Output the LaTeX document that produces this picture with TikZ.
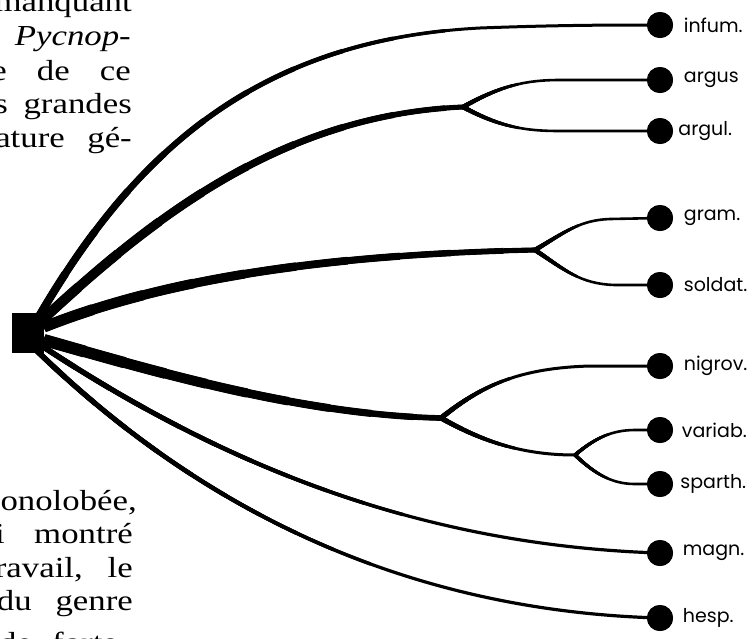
\documentclass[tikz,border=0pt]{standalone}
\usepackage{graphicx}
\usepackage{fontspec}
\setmainfont{Liberation Serif}
\newfontfamily\lblfont{Poppins}
\newcommand\sw[1]{\scalebox{1.2}[1]{#1}}
\newcommand\taper[4]{%
  \draw[line width=#2pt] #4;
  \foreach \ti in {1,...,10}{%
    \pgfmathsetmacro\twid{#2+(#1-#2)*\ti/10}%
    \pgfmathsetmacro\tlen{#3*(11-\ti)/10}%
    \draw[line width=\twid pt, dash pattern=on \tlen pt off 3000pt] #4;
  }}
\begin{document}
\begin{tikzpicture}[x=1pt,y=-1pt,
  dot/.style={circle,fill=black,minimum size=26pt,inner sep=0pt},
  lbl/.style={font=\lblfont\fontsize{19}{19}\selectfont,anchor=west,inner sep=0pt},
  txt/.style={font=\fontsize{29}{33}\selectfont,anchor=base east,inner sep=0pt},
  line join=round]
\useasboundingbox (0,0) rectangle (752,638);
\clip (0,0) rectangle (752,638);
\fill[white] (0,0) rectangle (752,638);
% text fragments (words of a justified page column)
\node[txt] (t1) at (132,11) {\sw{manquant}};
\node[txt] (t2) at (131,45) {\sw{\itshape Pycnop-}};
\node[txt] (t3a) at (7,80) {\sw{e}};
\node[txt] (t3b) at (70,80) {\sw{de}};
\node[txt] (t3c) at (131,80) {\sw{ce}};
\node[txt] (t4a) at (8,113) {\sw{s}};
\node[txt] (t4b) at (132,113) {\sw{grandes}};
\node[txt] (t5a) at (65,147) {\sw{ature}};
\node[txt] (t5b) at (132,147) {\sw{gé-}};
\node[txt] (b1) at (137,510) {\sw{onolobée,}};
\node[txt] (b2a) at (5,543) {\sw{i}};
\node[txt] (b2b) at (133,543) {\sw{montré}};
\node[txt] (b3a) at (83,577) {\sw{ravail,}};
\node[txt] (b3b) at (133,577) {\sw{le}};
\node[txt] (b4a) at (32,610) {\sw{du}};
\node[txt] (b4b) at (133,610) {\sw{genre}};
\node[txt,anchor=base west] (b5a) at (-1,652) {\sw{de}};
\node[txt,anchor=base west] (b5b) at (52,652) {\sw{forte}};
% root
\node[fill=black,minimum width=32pt,minimum height=40pt,inner sep=0pt] (root) at (28,333) {};
% leaves
\node[dot] (infum) at (660,25) {};
\node[dot] (argus) at (660,80) {};
\node[dot] (argul) at (660,131) {};
\node[dot] (gram) at (660,218) {};
\node[dot] (soldat) at (660,285) {};
\node[dot] (nigrov) at (660,366) {};
\node[dot] (variab) at (660,430) {};
\node[dot] (sparth) at (660,484) {};
\node[dot] (magn) at (660,553) {};
\node[dot] (hesp) at (660,618) {};
% start points and forks
\coordinate (sinf) at (38,318);
\coordinate (sarg) at (40,322);
\coordinate (sgram) at (44,327);
\coordinate (snig) at (44,340);
\coordinate (smag) at (42,346);
\coordinate (shes) at (36,350);
\coordinate (farg) at (463,107);
\coordinate (fgram) at (535,250);
\coordinate (fnig) at (441,418);
\coordinate (fvar) at (575,455);
% branches
\taper{8}{3}{520}{(sinf) .. controls (130,160) and (250,40) .. (480,28) .. controls (560,25) and (610,25) .. (infum.center)}
\taper{10}{4.5}{520}{(sarg) .. controls (150,220) and (280,115) .. (farg)}
\taper{11}{4.5}{520}{(sgram) .. controls (150,285) and (300,255) .. (fgram)}
\taper{12}{5}{420}{(snig) .. controls (150,370) and (300,415) .. (fnig)}
\taper{5.5}{3.2}{400}{(smag) .. controls (200,450) and (400,545) .. (magn.center)}
\taper{5.5}{3.2}{400}{(shes) .. controls (170,480) and (370,610) .. (hesp.center)}
\taper{4.5}{2.6}{60}{(farg) .. controls (500,86) and (525,80) .. (560,80) -- (argus.center)}
\taper{4.5}{2.6}{60}{(farg) .. controls (500,127) and (525,131) .. (560,131) -- (argul.center)}
\taper{4.5}{2.6}{50}{(fgram) .. controls (565,232) and (580,220) .. (610,219) -- (gram.center)}
\taper{4.5}{2.6}{50}{(fgram) .. controls (565,270) and (580,284) .. (615,285) -- (soldat.center)}
\taper{5}{3}{80}{(fnig) .. controls (482,385) and (520,368) .. (590,366) -- (nigrov.center)}
\taper{5}{3}{80}{(fnig) .. controls (480,440) and (520,455) .. (fvar)}
\taper{3.5}{2.6}{40}{(fvar) .. controls (595,438) and (612,430) .. (635,430) -- (variab.center)}
\taper{3.5}{2.6}{40}{(fvar) .. controls (595,474) and (612,484) .. (635,484) -- (sparth.center)}
% dots on top
\foreach \n in {infum,argus,argul,gram,soldat,nigrov,variab,sparth,magn,hesp}
  \node[dot] at (\n) {};
% labels
\node[lbl] at ([xshift=10.5pt]infum.east) {infum.};
\node[lbl] at ([xshift=10.5pt]argus.east) {argus};
\node[lbl] at ([xshift=5pt]argul.east) {argul.};
\node[lbl] at ([xshift=10.5pt]gram.east) {gram.};
\node[lbl] at ([xshift=10.5pt]soldat.east) {soldat.};
\node[lbl] at ([xshift=10.5pt]nigrov.east) {nigrov.};
\node[lbl] at ([xshift=8.5pt]variab.east) {variab.};
\node[lbl] at ([xshift=7pt]sparth.east) {sparth.};
\node[lbl] at ([xshift=9.5pt]magn.east) {magn.};
\node[lbl] at ([xshift=9.5pt]hesp.east) {hesp.};
\end{tikzpicture}
\end{document}
